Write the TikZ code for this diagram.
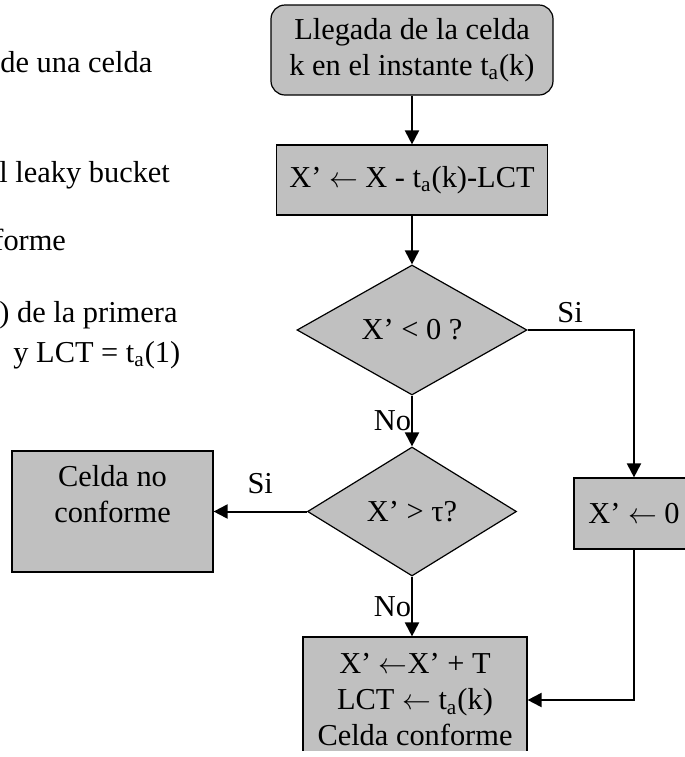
\documentclass[tikz,border=0pt]{standalone}
\usepackage{fontspec}
\setmainfont{Liberation Serif}
\usetikzlibrary{arrows.meta, shapes}
\definecolor{boxgray}{RGB}{192,192,192}

\begin{document}
\begin{tikzpicture}[
		x = 0.5pt, y = -0.5pt,
		every node/.style={font=\fontsize{15.2}{18}\selectfont},
		box/.style={draw=black, line width=0.6pt, fill=boxgray, inner sep=0pt, align=center},
		arrival/.style={box, rounded corners=7pt, minimum width=141pt, minimum height=45pt},
		process/.style={box, minimum width=135.5pt, minimum height=35pt},
		decision/.style={box, diamond, minimum width=115pt, minimum height=65pt},
		flow/.style={line width=1pt, -{Triangle[length=7pt, width=7pt]}},
		note/.style={anchor=base west, inner sep=0pt},
		]

	\useasboundingbox (0,0) rectangle (685,757);
	\clip (0,0) rectangle (685,750);

	\node (txt1) [note] at (0,72) {de una celda};
	\node (txt2) [note] at (-1,182) {l leaky bucket};
	\node (txt3) [note] at (-7,250) {forme};
	\node (txt4) [note] at (-1,322) {) de la primera};
	\node (txt5) [note] at (13,362) {y LCT = t\textsubscript{a}(1)};

	\node (cell) [arrival] at (412,50) {Llegada de la celda\\k en el instante t\textsubscript{a}(k)};
	\node (upd) [process] at (412,180) {X’ $\leftarrow$ X - t\textsubscript{a}(k)-LCT};
	\node (neg) [decision] at (412,330) {X’ < 0 ?};
	\node (big) [decision, minimum width=104.5pt, minimum height=64.5pt] at (412,511.5) {X’ > τ?};
	\node (rej) [box, minimum width=100.5pt, minimum height=60.5pt] at (112.5,511.5) {Celda no\\conforme\\~};
	\node (zero) [box, minimum width=60pt, minimum height=35.5pt] at (634,513.5) {X’ $\leftarrow$ 0};
	\node (ok) [box, minimum width=112pt, minimum height=63pt] at (415,700) {X’ $\leftarrow$X’ + T\\LCT $\leftarrow$ t\textsubscript{a}(k)\\Celda conforme};

	\draw[flow] (cell) -- (upd);
	\draw[flow] (upd) -- (neg);
	\draw[flow] (neg.east) -| node[pos=0.2, above] {Si} (zero.north);
	\draw[flow] (neg) -- node[midway, left, inner sep=0pt] {No} (big);
	\draw[flow] (big.west) -- node[midway, above=5pt] {Si} (rej.east);
	\draw[flow] (big.south) -- node[midway, left, inner sep=0pt] {No} (big.south |- ok.north);
	\draw[flow] (zero.south) |- (ok.east);
\end{tikzpicture}
\end{document}
